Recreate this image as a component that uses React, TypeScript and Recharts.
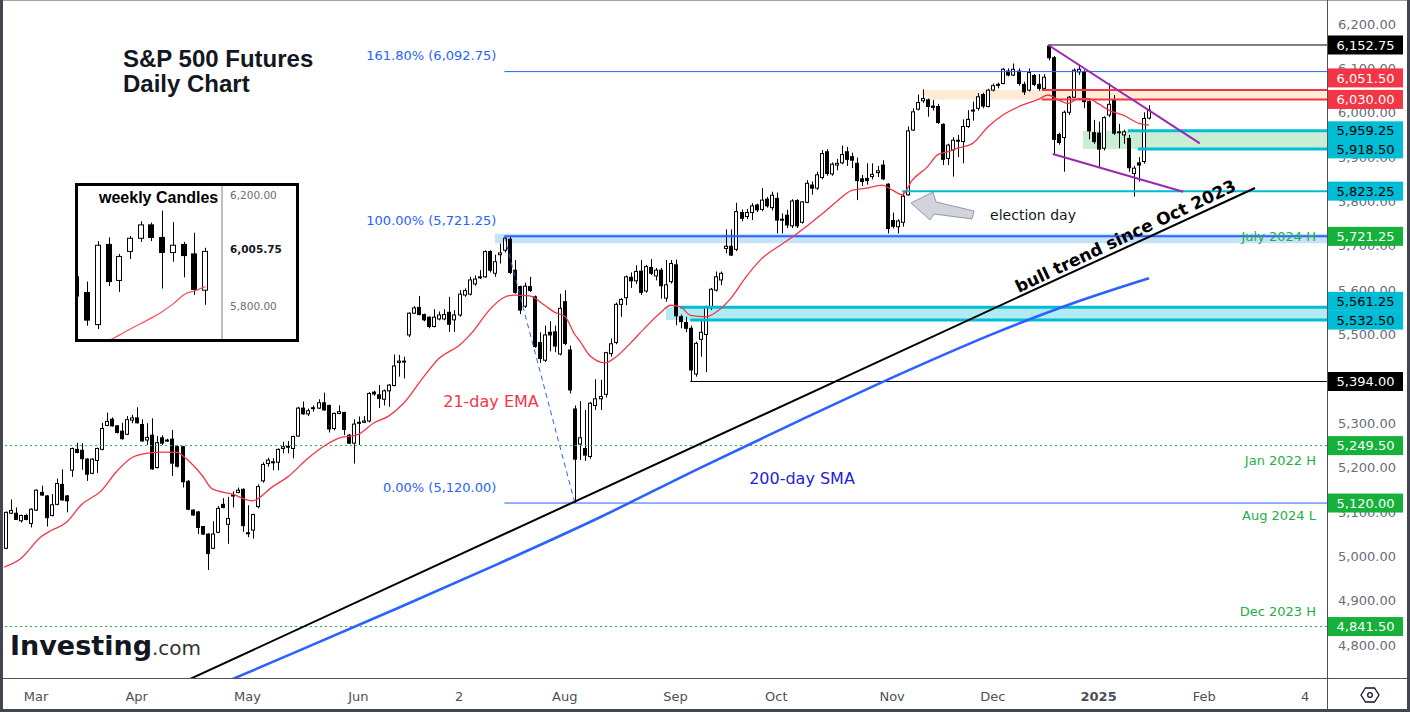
import React from 'react';
import { ComposedChart, Bar, Line, XAxis, YAxis, ReferenceLine, ReferenceArea } from 'recharts';

const FONT = 'DejaVu Sans, Verdana, sans-serif';

// ---------------- daily OHLC (bar 0 = 21 Feb 2024, last bar = 16 Jan 2025) ----------------
const opens = [
  5001,5018,5097,5097,5080,5092,5074,5104,5144,5136, 5092,5117,5162,5136,5194,5241,5239,5219,5187,5216,
  5241,5295,5309,5294,5282,5275,5307,5312,5297,5262, 5273,5200,5267,5262,5264,5247,5247,5169,5104,5100,
  5067,5050,5018,5054,5117,5072,5137,5144,5151,5053, 5059,5112,5170,5209,5212,5212,5243,5247,5243,5271,
  5334,5321,5334,5334,5346,5340,5288,5322,5324,5273, 5255,5300,5302,5305,5370,5364,5354,5373,5385,5437,
  5438,5499,5548,5561,5545,5539,5518,5535,5535,5550, 5533,5544,5589,5591,5614,5628,5630,5687,5638,5680,
  5690,5715,5645,5608,5564,5608,5585,5482,5442,5505, 5506,5456,5574,5465,5332,5253,5243,5225,5340,5355,
  5365,5457,5482,5568,5583,5629,5621,5643,5598,5651, 5632,5645,5582,5619,5657,5540,5527,5514,5411,5489,
  5500,5561,5600,5623,5694,5699,5692,5775,5766,5775, 5792,5782,5805,5786,5807,5758,5769,5745,5802,5753,
  5798,5837,5830,5854,5912,5862,5882,5887,5912,5901, 5886,5851,5852,5856,5865,5882,5839,5757,5743,5753,
  5815,5961,6008,6027,6029,6015,6014,5974,5897,5916, 5937,5935,5969,6004,6010,6041,6014,6051,6063,6066,
  6094,6085,6094,6064,6051,6084,6064,6055,6150,6124, 5951,5944,6001,6035,6092,6093,6025,5955,5954,5920,
  5995,6029,5955,5950,5942,5863,5887,5890,5988,
];
const highs = [
  5003,5101,5128,5110,5094,5095,5108,5151,5159,5138, 5140,5175,5196,5138,5245,5256,5255,5221,5221,5245,
  5301,5324,5313,5296,5301,5316,5319,5336,5309,5300, 5311,5271,5273,5265,5285,5250,5249,5172,5106,5102,
  5068,5052,5079,5113,5131,5134,5146,5155,5153,5115, 5096,5162,5212,5222,5221,5243,5258,5260,5272,5337,
  5349,5333,5340,5354,5369,5342,5324,5340,5326,5276, 5309,5315,5316,5370,5373,5386,5376,5388,5455,5454,
  5450,5550,5564,5587,5547,5541,5557,5552,5557,5585, 5555,5600,5604,5630,5633,5645,5690,5690,5680,5705,
  5721.25,5720,5668,5610,5617,5630,5588,5505,5520,5530, 5520,5592,5600,5475,5340,5350,5330,5348,5399,5398,
  5461,5491,5572,5582,5633,5640,5656,5668,5657,5670, 5650,5650,5668,5668,5669,5545,5540,5520,5484,5535,
  5565,5605,5642,5642,5737,5737,5797,5782,5783,5796, 5795,5830,5810,5822,5820,5773,5781,5805,5805,5801,
  5848,5845,5867,5916,5918,5888,5896,5926,5923,5910, 5899,5860,5886,5886,5880,5893,5841,5775,5760,5820,
  5969,6010,6041,6053,6032,6029,6020,5976,5930,5945, 5950,5985,6006,6025,6044,6045,6054,6066,6068,6101,
  6100,6111,6100,6070,6100,6087,6087,6087,6152.75,6128, 5955,6005,6038,6100,6108,6096,6030,5984,5980,5992,
  6066,6040,5975,5962,5950,5880,5900,6001,6017,
];
const lows = [
  4992,5016,5095,5082,5076,5081,5065,5102,5136,5067, 5090,5115,5125,5099,5179,5232,5195,5170,5185,5188,
  5239,5293,5292,5277,5263,5273,5300,5299,5258,5251, 5195,5198,5251,5258,5181,5200,5155,5104,5091,5050,
  5048,4969,5016,5052,5108,5028,5110,5142,5055,5043, 5040,5108,5166,5202,5194,5194,5232,5232,5221,5269,
  5319,5316,5326,5332,5328,5279,5284,5320,5273,5253, 5209,5251,5300,5302,5362,5334,5340,5337,5383,5405,
  5401,5494,5546,5543,5530,5514,5516,5532,5532,5506, 5506,5540,5585,5588,5610,5625,5628,5640,5630,5660,
  5685,5636,5592,5546,5560,5596,5470,5436,5438,5462, 5460,5453,5476,5367,5120,5217,5215,5220,5330,5330,
  5358,5450,5478,5540,5566,5605,5614,5589,5594,5634, 5622,5581,5574,5615,5521,5514,5505,5394,5405,5450,
  5415,5555,5597,5611,5683,5677,5688,5755,5760,5758, 5776,5778,5786,5780,5728,5728,5740,5740,5740,5750,
  5796,5815,5826,5850,5858,5858,5870,5884,5880,5875, 5803,5835,5838,5850,5855,5848,5728,5739,5728,5743,
  5813,5959,6005,6022,5991,6005,5975,5882,5882,5856, 5900,5886,5966,5982,6005,6010,6012,6048,6055,6064,
  6082,6083,6061,6040,6048,6060,6050,6050,6118,5907, 5928,5867,5995,6033,6085,6010,5940,5930,5878,5915,
  5990,5950,5920,5930,5867,5811,5845,5885,5985,
];
const closes = [
  4994,5099,5103,5083,5092,5083,5106,5149,5138,5087, 5116,5164,5127,5125,5243,5234,5220,5185,5219,5243,
  5288,5304,5294,5279,5265,5308,5312,5301,5260,5268, 5197,5256,5255,5261,5210,5203,5168,5106,5093,5065,
  5050,5006,5050,5108,5110,5085,5138,5149,5069,5051, 5094,5157,5207,5217,5213,5241,5247,5248,5270,5334,
  5321,5328,5335,5346,5330,5287,5322,5326,5286,5255, 5298,5302,5305,5367,5366,5356,5373,5386,5429,5440,
  5440,5548,5560,5545,5533,5518,5539,5544,5545,5523, 5544,5591,5599,5623,5625,5630,5687,5645,5664,5684,
  5717,5640,5595,5555,5609,5599,5473,5446,5499,5499, 5474,5559,5480,5375,5219,5267,5228,5345,5355,5360,
  5459,5479,5568,5579,5630,5621,5642,5595,5653,5638, 5645,5610,5612,5660,5542,5529,5514,5420,5480,5505,
  5561,5602,5630,5638,5699,5679,5777,5762,5775,5790, 5781,5803,5790,5814,5758,5760,5747,5801,5745,5799,
  5841,5830,5860,5908,5863,5884,5886,5906,5895,5893, 5847,5845,5847,5861,5869,5851,5739,5744,5756,5812,
  5959,6002,6023,6032,6014,6012,5978,5895,5927,5938, 5938,5969,5985,6006,6036,6015,6051,6061,6064,6098,
  6085,6098,6066,6047,6091,6064,6055,6080,6124,5940, 5933,6001,6035,6096,6098,6025,5959,5935,5918,5989,
  6019,5954,5957,5957,5876,5875,5882,5987,6006,
];

// 21-day EMA (bar index -> value)
const emaIdx = [0,4,8,10,13,16,20,23,26,29,32,35,37,40,42,46,50,54,57,61,64,67,71,74,77,80,84,87,91,94,97,100,102,105,108,110,112,114,115,117,120,122,125,128,131,133,135,137,140,142,145,148,151,155,157,159,163,166,169,172,175,177,179,181,184,186,188,190,193,196,199,202,206,208,210,212,214,216,218,220,223,226,228];
const emaVal = [4973,4995,5044,5058,5076,5116,5148,5191,5222,5232,5235,5234,5218,5182,5152,5140,5125,5157,5179,5221,5247,5266,5275,5300,5316,5345,5405,5446,5475,5510,5555,5584,5589,5587,5566,5550,5541,5500,5485,5452,5436,5448,5480,5516,5549,5566,5562,5543,5540,5550,5582,5630,5670,5703,5718,5735,5771,5800,5825,5830,5837,5826,5815,5848,5878,5905,5912,5920,5931,5968,5995,6013,6030,6040,6029,6021,6032,6032,6020,6006,5994,5976,5972];
// 200-day SMA
const smaIdx = [46,59,79,99,119,139,159,179,198,214,228];
const smaVal = [4723,4786,4884,4984,5088,5200,5308,5413,5506,5575,5627];

// x-axis month ticks (bar index of first session) and their labels
const monthTickIdx = [7,27,49,71,91,112,134,154,177,197,218,239,259];
const monthLabels = ['Mar','Apr','May','Jun','2','Aug','Sep','Oct','Nov','Dec','2025','Feb','4'];

const priceTicks = [4800,4900,5000,5100,5200,5300,5400,5500,5600,5700,5800,5900,6000,6100,6200];
const priceTickLabels = ['4,800.00','4,900.00','5,000.00','5,100.00','5,200.00','5,300.00','5,400.00','5,500.00','5,600.00','5,700.00','5,800.00','5,900.00','6,000.00','6,100.00','6,200.00'];

// right-axis price tags
const tagValues = [6152.75,6051.5,6030,5959.25,5918.5,5823.25,5721.25,5561.25,5532.5,5394,5249.5,5120,4841.5];
const tagTexts = ['6,152.75','6,051.50','6,030.00','5,959.25','5,918.50','5,823.25','5,721.25','5,561.25','5,532.50','5,394.00','5,249.50','5,120.00','4,841.50'];
const tagKinds = ['black','red','red','cyan','cyan','cyan','green','cyan','cyan','black','green','green','green'];
const tagShift = [0,-12,0,0,0,0,0,-6,0,0,0,0,0];

// horizontal levels drawn from a start bar to the right edge
const levelValues = [6152.75,6092.75,6051.5,6030,5959.25,5918.5,5823.25,5721.25,5561.25,5532.5,5394,5120];
const levelStart = [208,100,206.7,206.7,223.8,225.8,179,100,134.9,136.9,136.9,100];
const levelKinds = ['black','blue','red','red','cyanThick','cyanThick','cyan','blueMid','cyanThick','cyanThick','black','blue'];

// zones: [low, high, start bar]
const zoneLow = [5706,6030,5918.5,5532.5];
const zoneHigh = [5727,6051.5,5959.25,5561.25];
const zoneStart = [98.1,182.9,214.9,132.1];
const zoneKinds = ['blue','peach','green','cyan'];

// weekly inset candles
const wOpen = [5907,5851,5736,6023,5894,5998,6045,6093,6048,5994,6023,5989,5859];
const wHigh = [5915,5890,6035,6048,5989,6053,6106,6101,6144,6103,6032,6065,6011];
const wLow = [5830,5732,5720,5874,5853,5971,6032,6035,5865,5961,5905,5842,5807];
const wClose = [5838,5752,6020,5890,5980,6045,6093,6048,5994,6020,5983,5862,5998];
const wEma = [null,null,null,5678,5699,5720,5740,5760,5783,5810,5843,5857,5872];
const wTicks = [5800,6005.75,6200];
const wTickLabels = ['5,800.00','6,005.75','6,200.00'];

// ---------------- styling tables ----------------
const KIND_COLOR: Record<string, string> = {
  black: '#000000', blue: '#2962ff', blueMid: '#2962ff', red: '#f23645', cyan: '#00bcd4', cyanThick: '#00bcd4',
};
const KIND_WIDTH: Record<string, number> = { black: 1, blue: 1, blueMid: 2, red: 2, cyan: 2, cyanThick: 3 };
const TAG_BG: Record<string, string> = { black: '#000000', red: '#f23645', cyan: '#00bcd4', green: '#16b13b' };
const TAG_FG: Record<string, string> = { black: '#ffffff', red: '#ffffff', cyan: '#000000', green: '#ffffff' };
const ZONE_FILL: Record<string, string> = { blue: '#c6e2f8', peach: '#fdebd6', green: '#c9eed3', cyan: '#b2ebf2' };
const GREEN_TXT = '#1fae45';

const X_MIN = 0.645, X_MAX = 263.35;
const Y_MIN = 4725.5, Y_MAX = 6254.2;

const rows = opens.map((o, i) => ({ i, o, h: highs[i], l: lows[i], c: closes[i], ema: null as number | null, sma: null as number | null }));
emaIdx.forEach((k, j) => { rows[k].ema = emaVal[j]; });
smaIdx.forEach((k, j) => { rows[k].sma = smaVal[j]; });

const wRows = wOpen.map((o, k) => ({ k, o, h: wHigh[k], l: wLow[k], c: wClose[k], ema: wEma[k] }));

function makeCandle(bodyW: number) {
  return (props: any) => {
    const { x, y, width, height, payload } = props;
    if (!payload || !isFinite(x) || !isFinite(y) || !isFinite(height)) return <g />;
    const { o, h, l, c } = payload;
    const span = h - l || 1;
    const yAt = (v: number) => y + ((h - v) / span) * height;
    const left = Math.round(x + width / 2 - bodyW / 2);
    const wx = left + Math.floor(bodyW / 2) + 0.5;
    const t = yAt(Math.max(o, c));
    const b = yAt(Math.min(o, c));
    const up = c >= o;
    return (
      <g>
        <line x1={wx} x2={wx} y1={y} y2={y + height} stroke="#000" strokeWidth={1} />
        <rect x={left + 0.5} y={t} width={bodyW - 1} height={Math.max(b - t, 1)} fill={up ? '#ffffff' : '#000000'} stroke="#000" strokeWidth={1} />
      </g>
    );
  };
}
const DailyCandle = makeCandle(4);
const WeeklyCandle = makeCandle(6);

const XTick = (props: any) => {
  const { x, y, payload } = props;
  const k = monthTickIdx.indexOf(payload.value);
  const label = k >= 0 ? monthLabels[k] : '';
  return (
    <text x={x} y={y + 23} textAnchor="middle" fontSize={13} fontFamily={FONT} fill="#4c4f57" fontWeight={label === '2025' ? 'bold' : 'normal'}>
      {label}
    </text>
  );
};

// grey price scale labels, drawn in the reference layer so that the price tags cover them
const priceLabel = (j: number) => (props: any) => {
  const vb = props.viewBox;
  if (!vb) return null;
  return (
    <text x={vb.x + vb.width + 40} y={vb.y} dy="0.36em" textAnchor="middle" fontSize={13} fontFamily={FONT} fill="#6a6d78">
      {priceTickLabels[j]}
    </text>
  );
};

const WTick = (props: any) => {
  const { x, y, payload } = props;
  const k = wTicks.indexOf(payload.value);
  const cur = k === 1;
  return (
    <text x={x + 8} y={y} dy="0.36em" textAnchor="start" fontSize={10.5} fontFamily={FONT} fill={cur ? '#131722' : '#6a6d78'} fontWeight={cur ? 'bold' : 'normal'}>
      {k >= 0 ? wTickLabels[k] : ''}
    </text>
  );
};

const tagLabel = (j: number) => (props: any) => {
  const vb = props.viewBox;
  if (!vb) return null;
  const bx = vb.x + vb.width + 1;
  const cy = vb.y + tagShift[j];
  const kind = tagKinds[j];
  return (
    <g>
      <rect x={bx} y={cy - 9.5} width={75} height={19} fill={TAG_BG[kind]} />
      <text x={bx + 37.5} y={cy} dy="0.36em" textAnchor="middle" fontSize={13} fontFamily={FONT} fill={TAG_FG[kind]}>{tagTexts[j]}</text>
    </g>
  );
};

const fibText = (text: string) => (props: any) => {
  const vb = props.viewBox;
  if (!vb) return null;
  return (
    <text x={vb.x - 8} y={vb.y - 16} dy="0.36em" textAnchor="end" fontSize={13} fontFamily={FONT} fill="#2962ff">{text}</text>
  );
};

const greenText = (text: string, dy: number) => (props: any) => {
  const vb = props.viewBox;
  if (!vb) return null;
  return (
    <text x={vb.x + vb.width - 11} y={vb.y + dy} dy="0.36em" textAnchor="end" fontSize={13} fontFamily={FONT} fill={GREEN_TXT}>{text}</text>
  );
};

const ArrowShape = (props: any) => {
  const { x, y, width: w, height: h } = props;
  if (!isFinite(x) || !isFinite(y)) return null;
  const pts = [[0, 0.393], [0.349, 0], [0.397, 0.357], [1, 0.679], [0.968, 0.964], [0.365, 0.786], [0.302, 1]]
    .map(([u, v]) => `${x + u * w},${y + v * h}`).join(' ');
  return <polygon points={pts} fill="#d1d4dc" stroke="#9598a1" strokeWidth={1} />;
};

function WeeklyInset() {
  return (
    <div style={{ position: 'absolute', left: 75, top: 183, width: 224, height: 159, border: '3px solid #000', boxSizing: 'border-box', background: '#fff' }}>
      <ComposedChart width={218} height={153} data={wRows} margin={{ top: 0, right: 0, bottom: 0, left: 0 }}>
        <XAxis dataKey="k" type="number" domain={[0.12, 13.55]} allowDataOverflow hide />
        <YAxis orientation="right" width={74} type="number" domain={[5684.3, 6232.2]} allowDataOverflow ticks={wTicks} interval={0}
          tickSize={0} tickMargin={0} axisLine={{ stroke: '#808080' }} tickLine={false} tick={WTick} />
        <Line dataKey="ema" type="monotone" stroke="#f7525f" strokeWidth={1.2} dot={false} connectNulls isAnimationActive={false} />
        <Bar dataKey={(d: any) => [d.l, d.h]} barSize={6} shape={WeeklyCandle} isAnimationActive={false} />
      </ComposedChart>
    </div>
  );
}

export default function App() {
  return (
    <div style={{ position: 'absolute', left: 0, top: 0, width: 1410, height: 712, background: '#fff', overflow: 'hidden' }}>
      <div style={{ position: 'absolute', left: 0, top: 0 }}>
        <ComposedChart width={1410} height={712} data={rows} margin={{ top: 0, right: 0, bottom: 0, left: 4 }}>
          <XAxis dataKey="i" type="number" domain={[X_MIN, X_MAX]} allowDataOverflow ticks={monthTickIdx} interval={0}
            height={34} tickSize={0} tickMargin={0} axisLine={false} tickLine={false} tick={XTick} />
          <YAxis orientation="right" width={83} type="number" domain={[Y_MIN, Y_MAX]} allowDataOverflow ticks={priceTicks} interval={0}
            tickSize={0} tickMargin={0} axisLine={false} tickLine={false} tick={false} />

          {zoneLow.map((lo, j) => (
            <ReferenceArea key={'z' + j} x1={zoneStart[j]} x2={X_MAX} y1={lo} y2={zoneHigh[j]} fill={ZONE_FILL[zoneKinds[j]]} fillOpacity={1} stroke="none" ifOverflow="visible" />
          ))}

          <ReferenceLine y={5249.5} stroke="#1fae45" strokeDasharray="2 3" strokeWidth={1} label={greenText('Jan 2022 H', 15)} />
          <ReferenceLine y={4841.5} stroke="#1fae45" strokeDasharray="2 3" strokeWidth={1} label={greenText('Dec 2023 H', -15)} />

          {levelValues.map((v, j) => (
            <ReferenceLine key={'l' + j} segment={[{ x: levelStart[j], y: v }, { x: X_MAX, y: v }]} ifOverflow="visible"
              stroke={KIND_COLOR[levelKinds[j]]} strokeWidth={KIND_WIDTH[levelKinds[j]]}
              label={v === 6092.75 ? fibText('161.80% (6,092.75)') : v === 5721.25 ? fibText('100.00% (5,721.25)') : v === 5120 ? fibText('0.00% (5,120.00)') : undefined} />
          ))}
          <ReferenceLine y={5721.25} stroke="none" label={greenText('July 2024 H', 0)} />
          <ReferenceLine y={5120} stroke="none" label={greenText('Aug 2024 L', 12)} />

          {/* fib diagonal */}
          <ReferenceLine segment={[{ x: 100, y: 5721.25 }, { x: 114, y: 5120 }]} ifOverflow="visible" stroke="#2962ff" strokeWidth={1} strokeDasharray="5 4" />

          <Line dataKey="sma" type="monotone" stroke="#2962ff" strokeWidth={2.6} dot={false} connectNulls isAnimationActive={false} />
          <Line dataKey="ema" type="monotone" stroke="#f23645" strokeWidth={1.3} dot={false} connectNulls isAnimationActive={false} />

          <Bar dataKey={(d: any) => [d.l, d.h]} barSize={4} shape={DailyCandle} isAnimationActive={false} />

          {/* long-term trend line and wedge */}
          <ReferenceLine segment={[{ x: 29.64, y: 4681.7 }, { x: 249.05, y: 5830.3 }]} ifOverflow="hidden" stroke="#000" strokeWidth={2} />
          <ReferenceLine segment={[{ x: 208.0, y: 6152.75 }, { x: 238.1, y: 5931 }]} ifOverflow="visible" stroke="#9c27b0" strokeWidth={2} />
          <ReferenceLine segment={[{ x: 208.9, y: 5907 }, { x: 234.8, y: 5822 }]} ifOverflow="visible" stroke="#9c27b0" strokeWidth={2} />

          <ReferenceArea x1={180.75} x2={193.26} y1={5758.2} y2={5821.3} ifOverflow="visible" shape={ArrowShape} />

          {priceTicks.map((v, j) => (
            <ReferenceLine key={'p' + j} y={v} stroke="none" label={priceLabel(j)} />
          ))}
          {tagValues.map((v, j) => (
            <ReferenceLine key={'t' + j} y={v} stroke="none" label={tagLabel(j)} />
          ))}
        </ComposedChart>
      </div>

      <WeeklyInset />

      <svg width={1410} height={712} style={{ position: 'absolute', left: 0, top: 0, pointerEvents: 'none' }}>
        <text x={123} y={67} fontFamily="Liberation Sans, Arial, sans-serif" fontWeight="bold" fontSize={24} fill="#131722">{'S&P 500 Futures'}</text>
        <text x={123} y={92} fontFamily="Liberation Sans, Arial, sans-serif" fontWeight="bold" fontSize={24} fill="#131722">Daily Chart</text>
        <text x={99} y={202.5} fontFamily="Liberation Sans, Arial, sans-serif" fontWeight="bold" fontSize={16} fill="#000">weekly Candles</text>
        <text x={1033} y={220} textAnchor="middle" fontFamily={FONT} fontSize={14} fill="#131722">election day</text>
        <text x={491} y={407} textAnchor="middle" fontFamily={FONT} fontSize={16} fill="#f23645">21-day EMA</text>
        <text x={802} y={484} textAnchor="middle" fontFamily={FONT} fontSize={16} fill="#1f22d8">200-day SMA</text>
        <text x={1128} y={241.5} textAnchor="middle" fontFamily={FONT} fontWeight="bold" fontSize={17} fill="#000" transform="rotate(-25.2 1128 241.5)">bull trend since Oct 2023</text>
        <text x={10} y={655} fontFamily={FONT} fill="#131722">
          <tspan fontWeight="bold" fontSize={27}>Investing</tspan>
          <tspan fontSize={20} fill="#333">.com</tspan>
        </text>
        <line x1={1327.5} y1={0} x2={1327.5} y2={712} stroke="#50535e" strokeWidth={1} />
        <line x1={0} y1={678.5} x2={1410} y2={678.5} stroke="#50535e" strokeWidth={1} />
        <polygon points="1361,695 1365.5,688 1374.5,688 1379,695 1374.5,702 1365.5,702" fill="none" stroke="#131722" strokeWidth={1.3} />
        <circle cx={1370} cy={695} r={2.3} fill="none" stroke="#131722" strokeWidth={1.3} />
        <rect x={1.5} y={-1} width={1407} height={711.5} fill="none" stroke="#434651" strokeWidth={3} />
      </svg>
    </div>
  );
}
